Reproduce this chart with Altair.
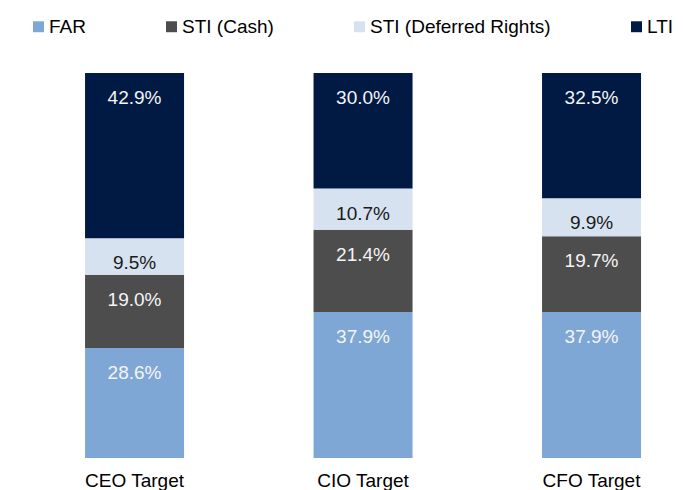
import altair as alt
import pandas as pd

roles = ["CEO Target", "CIO Target", "CFO Target"]
components = ["FAR", "STI (Cash)", "STI (Deferred Rights)", "LTI"]
far = [28.6, 37.9, 37.9]
sti_cash = [19.0, 21.4, 19.7]
sti_deferred = [9.5, 10.7, 9.9]
lti = [42.9, 30.0, 32.5]

bar_colors = ["#7FA7D6", "#4D4D4D", "#D6E2F0", "#001A44"]
label_colors = ["#F4F4F4", "#F4F4F4", "#1A1A1A", "#F4F4F4"]

series = [far, sti_cash, sti_deferred, lti]
rows = []
for i, role in enumerate(roles):
    for j, comp in enumerate(components):
        v = series[j][i]
        rows.append({
            "role": role,
            "component": comp,
            "order": j,
            "value": v,
            "label": f"{v:.1f}%",
            "tcolor": label_colors[j],
        })
df = pd.DataFrame(rows)

FONT = "Liberation Sans"

xscale = alt.Scale(domain=roles, paddingInner=0.5667, paddingOuter=0.2254, align=0.748)

base = alt.Chart(df).transform_stack(
    stack="value",
    groupby=["role"],
    as_=["start", "end"],
    sort=[alt.SortField("order", order="ascending")],
)

bars = base.mark_bar().encode(
    x=alt.X("role:N", sort=roles, scale=xscale,
            axis=alt.Axis(title=None, labelAngle=0, domain=False, ticks=False, grid=False,
                          labelFont=FONT, labelFontSize=19, labelColor="#000000",
                          labelPadding=13)),
    y=alt.Y("start:Q", scale=alt.Scale(domain=[0, 100], nice=False), axis=None),
    y2="end:Q",
    color=alt.Color("component:N", sort=components,
                    scale=alt.Scale(domain=components, range=bar_colors),
                    legend=alt.Legend(title=None, orient="none", direction="horizontal",
                                      legendX=21, legendY=-56,
                                      symbolType="square", symbolSize=120,
                                      symbolStrokeWidth=0, labelOffset=1,
                                      columnPadding=76, labelFont=FONT,
                                      labelFontSize=19, labelColor="#000000",
                                      labelLimit=400)),
)

labels = base.mark_text(dy=25, baseline="middle", align="center", font=FONT, fontSize=19).encode(
    x=alt.X("role:N", sort=roles, scale=xscale),
    y=alt.Y("end:Q", scale=alt.Scale(domain=[0, 100], nice=False)),
    text="label:N",
    color=alt.Color("tcolor:N", scale=None),
)

chart = alt.layer(bars, labels).resolve_scale(color="independent").properties(
    width=659,
    height=385,
    autosize=alt.AutoSizeParams(type="none"),
    padding={"left": 0, "top": 65, "right": 8, "bottom": 40},
).configure_view(stroke=None)

chart.save("out.html", embed_options={"renderer": "svg", "actions": False})
